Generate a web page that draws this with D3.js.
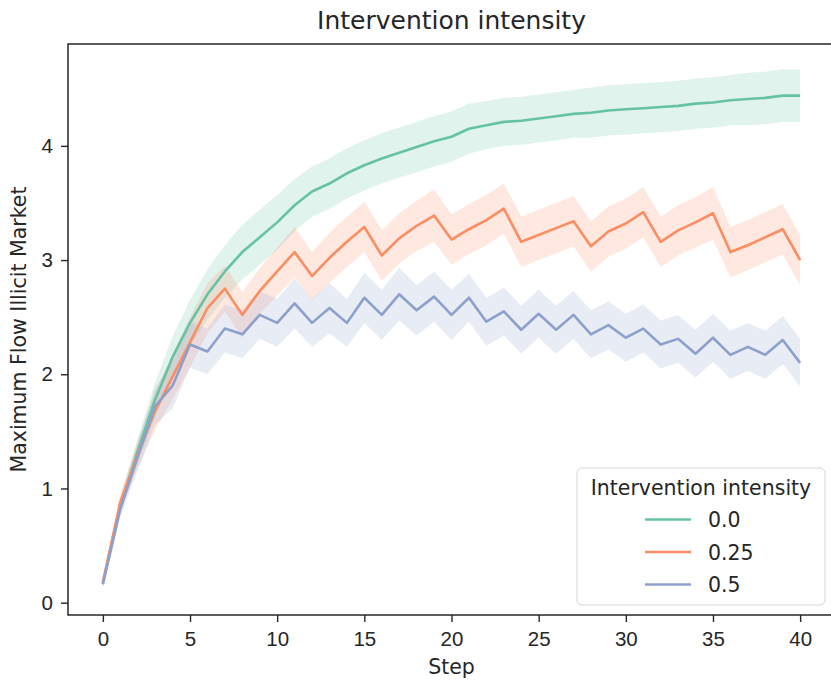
<!DOCTYPE html>
<html>
<head>
<meta charset="utf-8">
<script src="https://cdn.jsdelivr.net/npm/d3@7"></script>
<style>
body { margin: 0; background: white; }
svg { font-family: "DejaVu Sans", sans-serif; }
.axis path, .axis line { stroke: #262626; }
.axis text { fill: #262626; font-size: 20.5px; }
</style>
</head>
<body>
<svg></svg>
<script>
var screen = {width: 831, height: 680};
var plot = {left: 68, right: 835, top: 44, bottom: 615};

var steps = [0,1,2,3,4,5,6,7,8,9,10,11,12,13,14,15,16,17,18,19,20,
             21,22,23,24,25,26,27,28,29,30,31,32,33,34,35,36,37,38,39,40];

var series = ["0.0", "0.25", "0.5"];
var colors = ["#66c2a5", "#fc8d62", "#8da0cb"];

// mean line per intervention intensity
var mean00 = [0.17,0.85,1.33,1.78,2.15,2.45,2.70,2.90,3.07,3.20,3.33,3.48,3.60,3.67,3.76,3.83,3.89,3.94,3.99,4.04,4.08,
              4.15,4.18,4.21,4.22,4.24,4.26,4.28,4.29,4.31,4.32,4.33,4.34,4.35,4.37,4.38,4.40,4.41,4.42,4.44,4.44];
var mean25 = [0.18,0.88,1.30,1.68,1.98,2.28,2.58,2.75,2.52,2.73,2.90,3.07,2.86,3.02,3.16,3.29,3.04,3.19,3.30,3.39,3.18,
              3.27,3.35,3.45,3.16,3.22,3.28,3.34,3.12,3.25,3.32,3.42,3.16,3.26,3.33,3.41,3.07,3.13,3.20,3.27,3.00];
var mean50 = [0.16,0.82,1.28,1.72,1.90,2.26,2.20,2.40,2.35,2.52,2.45,2.62,2.45,2.58,2.45,2.67,2.52,2.70,2.56,2.68,2.52,
              2.67,2.46,2.55,2.39,2.53,2.39,2.52,2.35,2.43,2.32,2.40,2.26,2.31,2.18,2.32,2.17,2.24,2.17,2.30,2.10];

// half width of the confidence band
var ci00 = [0.03,0.07,0.11,0.15,0.18,0.20,0.22,0.23,0.24,0.24,0.24,0.23,0.22,0.22,0.22,0.22,0.22,0.22,0.22,0.22,0.22,
            0.22,0.21,0.21,0.21,0.21,0.21,0.21,0.22,0.22,0.22,0.22,0.22,0.22,0.22,0.22,0.22,0.23,0.23,0.23,0.23];
var ci25 = [0.03,0.07,0.12,0.17,0.20,0.22,0.22,0.20,0.20,0.20,0.21,0.22,0.21,0.22,0.22,0.22,0.22,0.22,0.22,0.23,0.22,
            0.22,0.22,0.22,0.22,0.22,0.22,0.22,0.22,0.22,0.22,0.22,0.22,0.22,0.22,0.23,0.22,0.22,0.22,0.22,0.22];
var ci50 = [0.03,0.07,0.12,0.16,0.20,0.20,0.20,0.21,0.21,0.21,0.21,0.22,0.21,0.22,0.21,0.22,0.22,0.23,0.22,0.22,0.22,
            0.21,0.21,0.21,0.21,0.21,0.21,0.21,0.21,0.21,0.21,0.21,0.21,0.21,0.21,0.21,0.21,0.21,0.21,0.21,0.21];

var xTicks = [0,5,10,15,20,25,30,35,40];
var yTicks = [0,1,2,3,4];

var means = [mean00, mean25, mean50];
var cis = [ci00, ci25, ci50];

var setup = function()
{
    var svg = d3.select("svg")
        .attr("width", screen.width)
        .attr("height", screen.height);

    var xScale = d3.scaleLinear()
        .domain([-2, 42])
        .range([plot.left, plot.right]);

    var yScale = d3.scaleLinear()
        .domain([-0.108, 4.892])
        .range([plot.bottom, plot.top]);

    svg.append("defs").append("clipPath").attr("id", "clip")
        .append("rect")
        .attr("x", plot.left).attr("y", plot.top)
        .attr("width", plot.right - plot.left)
        .attr("height", plot.bottom - plot.top);

    var graph = svg.append("g").attr("id", "graph").attr("clip-path", "url(#clip)");

    // bands first, lines on top (like seaborn)
    series.forEach(function(name, i) { drawBand(graph, xScale, yScale, i); });
    series.forEach(function(name, i) { drawLine(graph, xScale, yScale, i); });

    var xAxis = d3.axisBottom(xScale).tickValues(xTicks).tickFormat(d3.format("d"))
        .tickSize(7).tickPadding(9).tickSizeOuter(0);
    var yAxis = d3.axisLeft(yScale).tickValues(yTicks).tickFormat(d3.format("d"))
        .tickSize(7).tickPadding(8).tickSizeOuter(0);

    svg.append("g").attr("class", "axis")
        .attr("transform", "translate(0," + plot.bottom + ")")
        .call(xAxis);

    svg.append("g").attr("class", "axis")
        .attr("transform", "translate(" + plot.left + ",0)")
        .call(yAxis);

    svg.selectAll(".axis .domain").remove();
    svg.selectAll(".axis line").attr("stroke-width", 1.4);

    // frame
    svg.append("rect")
        .attr("x", plot.left).attr("y", plot.top)
        .attr("width", plot.right - plot.left)
        .attr("height", plot.bottom - plot.top)
        .attr("fill", "none")
        .attr("stroke", "#262626")
        .attr("stroke-width", 1.5);

    svg.append("text")
        .attr("x", (plot.left + plot.right) / 2)
        .attr("y", 28.5)
        .style("text-anchor", "middle")
        .style("font-size", "25px")
        .attr("fill", "#262626")
        .text("Intervention intensity");

    svg.append("text")
        .attr("x", (plot.left + plot.right) / 2)
        .attr("y", 674)
        .style("text-anchor", "middle")
        .style("font-size", "20.5px")
        .attr("fill", "#262626")
        .text("Step");

    svg.append("text")
        .attr("transform", "translate(26," + ((plot.top + plot.bottom) / 2) + ") rotate(-90)")
        .style("text-anchor", "middle")
        .style("font-size", "20.5px")
        .attr("fill", "#262626")
        .text("Maximum Flow Illicit Market");

    drawLegend(svg);
}

var drawBand = function(graph, xScale, yScale, i)
{
    var area = d3.area()
        .x(function(d, j) { return xScale(steps[j]); })
        .y0(function(d, j) { return yScale(means[i][j] - cis[i][j]); })
        .y1(function(d, j) { return yScale(means[i][j] + cis[i][j]); });

    graph.append("path")
        .datum(means[i])
        .attr("fill", colors[i])
        .attr("fill-opacity", 0.2)
        .attr("d", area);
}

var drawLine = function(graph, xScale, yScale, i)
{
    var line = d3.line()
        .x(function(d, j) { return xScale(steps[j]); })
        .y(function(d) { return yScale(d); });

    graph.append("path")
        .datum(means[i])
        .attr("fill", "none")
        .attr("stroke", colors[i])
        .attr("stroke-width", 2.6)
        .attr("stroke-linejoin", "round")
        .attr("d", line);
}

var drawLegend = function(svg)
{
    var legend = svg.append("g").attr("id", "legend")
        .attr("transform", "translate(577,468)");

    legend.append("rect")
        .attr("width", 248).attr("height", 137)
        .attr("rx", 5)
        .attr("fill", "white").attr("fill-opacity", 0.8)
        .attr("stroke", "#d6d6d6");

    legend.append("text")
        .attr("x", 124).attr("y", 26.5)
        .style("text-anchor", "middle")
        .style("font-size", "20.5px")
        .attr("fill", "#262626")
        .text("Intervention intensity");

    var gs = legend.selectAll("g.entry")
        .data(series)
        .enter()
        .append("g")
        .attr("class", "entry")
        .attr("transform", function(d, i) { return "translate(0," + (51.5 + i * 32.5) + ")"; });

    gs.append("line")
        .attr("x1", 68).attr("x2", 114)
        .attr("stroke", function(d, i) { return colors[i]; })
        .attr("stroke-width", 2.6);

    gs.append("text")
        .attr("x", 131).attr("y", 7.5)
        .style("font-size", "20.5px")
        .attr("fill", "#262626")
        .text(function(d) { return d; });
}

setup();
</script>
</body>
</html>
